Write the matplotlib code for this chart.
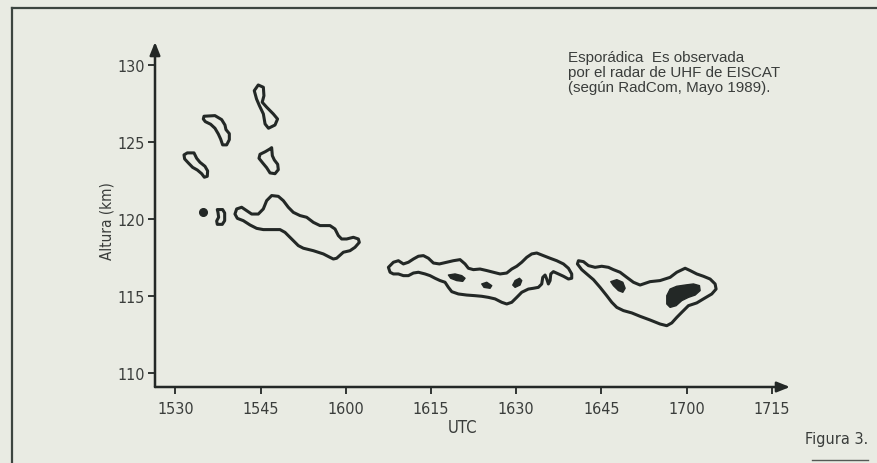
import matplotlib
matplotlib.use("Agg")
import matplotlib.pyplot as plt
from matplotlib.patches import Polygon
from matplotlib import font_manager
from matplotlib.font_manager import FontProperties

# ---------------- data (time in minutes after 15:30 UTC, altitude in km) ----------------
x_ticks = [0, 15, 30, 45, 60, 75, 90, 105]
x_tick_labels = ["1530", "1545", "1600", "1615", "1630", "1645", "1700", "1715"]
y_ticks = [110, 115, 120, 125, 130]

island_top = [(14.6, 128.7), (15.5, 128.55), (15.6, 128.0), (15.3, 127.58), (16.1, 127.25),
              (17.25, 126.82), (18.0, 126.49), (17.55, 126.1), (16.4, 125.89), (15.8, 126.17),
              (15.5, 126.82), (14.8, 127.36), (14.3, 127.79), (13.9, 128.33)]
island_boomerang = [(5.05, 126.67), (6.98, 126.71), (8.16, 126.45), (8.74, 126.1), (8.92, 125.8),
                    (9.51, 125.54), (9.51, 125.15), (9.04, 124.81), (8.33, 124.81), (7.98, 125.19),
                    (7.57, 125.52), (6.98, 125.89), (6.22, 126.15), (5.28, 126.32), (4.93, 126.49)]
island_left = [(2.11, 124.29), (3.29, 124.29), (3.76, 123.94), (4.34, 123.68), (5.22, 123.42),
               (5.69, 123.12), (5.63, 122.77), (5.11, 122.71), (4.64, 122.94), (3.87, 123.18),
               (3.05, 123.35), (2.29, 123.64), (1.64, 123.9), (1.53, 124.16)]
island_mid = [(16.96, 124.63), (17.08, 124.11), (17.43, 123.83), (18.02, 123.55), (18.13, 123.2),
              (17.55, 122.94), (16.67, 122.99), (16.08, 123.33), (15.38, 123.64), (14.73, 123.94),
              (14.91, 124.2), (15.85, 124.37), (16.67, 124.55)]
island_small = [(7.39, 120.61), (8.33, 120.61), (8.69, 120.39), (8.69, 119.89), (8.27, 119.65),
                (7.39, 119.65), (7.28, 119.87), (7.63, 120.11), (7.51, 120.43)]
dot_point = (4.93, 120.43)

layer_1545 = [(10.8, 120.65), (11.68, 120.76), (12.56, 120.54), (13.44, 120.32), (14.61, 120.32),
              (15.49, 120.65), (16.08, 121.19), (16.96, 121.52), (18.13, 121.47), (19.01, 121.19),
              (19.89, 120.76), (20.77, 120.43), (21.95, 120.22), (23.12, 120.11), (24.3, 119.78),
              (25.47, 119.57), (27.23, 119.57), (28.11, 119.35), (28.7, 118.92), (29.28, 118.7),
              (30.16, 118.7), (31.34, 118.81), (32.22, 118.7), (32.39, 118.48), (31.63, 118.16),
              (30.75, 117.94), (29.58, 117.84), (28.4, 117.45), (27.82, 117.4), (27.11, 117.53),
              (26.06, 117.73), (24.3, 117.94), (22.54, 118.1), (21.65, 118.27), (20.48, 118.7),
              (19.31, 119.13), (18.43, 119.31), (16.96, 119.31), (15.49, 119.31), (14.32, 119.39),
              (13.15, 119.61), (11.97, 119.89), (10.92, 120.04), (10.5, 120.32)]

layer_1615 = [(37.51, 116.86), (38.39, 117.19), (39.27, 117.29), (40.15, 117.08), (41.03, 117.19),
              (41.91, 117.4), (42.79, 117.58), (43.67, 117.62), (44.55, 117.45), (45.43, 117.14),
              (46.48, 117.08), (47.78, 117.19), (48.95, 117.29), (50.12, 117.36), (51.0, 117.08),
              (51.59, 116.8), (52.47, 116.71), (53.64, 116.75), (54.82, 116.65), (55.99, 116.54),
              (57.17, 116.43), (58.34, 116.49), (59.22, 116.75), (60.1, 116.93), (60.98, 117.19),
              (61.86, 117.51), (62.74, 117.73), (63.62, 117.79), (64.79, 117.62), (65.97, 117.45),
              (67.14, 117.29), (68.32, 117.08), (69.2, 116.8), (69.78, 116.43), (69.78, 116.15),
              (69.2, 116.1), (68.32, 116.28), (67.44, 116.43), (66.55, 116.58), (66.09, 116.43),
              (65.97, 116.0), (65.67, 115.78), (65.38, 116.1), (65.09, 116.36), (64.68, 116.21),
              (64.5, 115.78), (63.91, 115.56), (63.03, 115.5), (62.15, 115.45), (60.98, 115.24),
              (60.1, 114.91), (59.22, 114.59), (58.34, 114.48), (57.46, 114.59), (56.29, 114.81),
              (55.11, 114.91), (53.94, 114.98), (52.76, 115.02), (51.3, 115.06), (49.83, 115.13),
              (48.66, 115.28), (48.07, 115.56), (47.48, 115.89), (46.6, 116.0), (45.72, 116.15),
              (44.84, 116.32), (43.96, 116.43), (42.79, 116.54), (41.91, 116.49), (41.03, 116.32),
              (40.15, 116.32), (39.27, 116.43), (38.39, 116.43), (37.8, 116.54)]
core_1615_a = [(48.07, 116.36), (49.24, 116.43), (50.42, 116.32), (51.0, 116.15), (50.59, 115.95),
               (49.53, 116.0), (48.48, 116.15)]
core_1615_b = [(53.94, 115.78), (54.82, 115.89), (55.7, 115.67), (55.4, 115.5), (54.34, 115.56)]
core_1615_c = [(59.81, 116.0), (60.58, 116.15), (60.98, 116.0), (60.68, 115.71), (59.81, 115.56),
               (59.4, 115.71)]

layer_1700 = [(70.96, 117.29), (71.84, 117.23), (72.72, 116.97), (73.89, 116.86), (75.06, 116.93),
              (76.24, 116.86), (77.12, 116.71), (78.29, 116.54), (79.47, 116.21), (80.64, 115.89),
              (81.81, 115.71), (83.57, 115.93), (85.33, 116.0), (87.1, 116.21), (88.27, 116.54),
              (89.74, 116.8), (90.62, 116.65), (91.79, 116.43), (92.96, 116.28), (94.14, 116.1),
              (95.02, 115.78), (95.19, 115.45), (94.43, 115.13), (92.96, 114.81), (91.79, 114.55),
              (90.32, 114.37), (89.15, 113.94), (88.27, 113.61), (87.39, 113.25), (86.51, 113.07),
              (85.33, 113.18), (83.57, 113.44), (81.81, 113.68), (80.35, 113.9), (78.88, 114.05),
              (77.71, 114.26), (76.83, 114.59), (75.94, 115.02), (74.77, 115.56), (73.6, 116.06),
              (72.42, 116.43), (71.54, 116.71), (70.78, 117.08)]
core_1700_a = [(76.65, 115.93), (77.71, 116.06), (78.77, 115.89), (79.18, 115.5), (78.77, 115.24),
               (78.0, 115.35), (77.12, 115.67)]
core_1700_b = [(87.1, 115.45), (88.27, 115.63), (89.74, 115.71), (91.2, 115.78), (92.26, 115.67),
               (92.38, 115.35), (91.5, 115.06), (90.32, 114.91), (89.15, 114.7), (88.15, 114.37),
               (87.1, 114.26), (86.51, 114.48), (86.51, 115.02)]

outlines = [island_top, island_boomerang, island_left, island_mid, island_small,
            layer_1545, layer_1615, layer_1700]
cores = [core_1615_a, core_1615_b, core_1615_c, core_1700_a, core_1700_b]

caption_lines = ["Esporádica  Es observada",
                 "por el radar de UHF de EISCAT",
                 "(según RadCom, Mayo 1989)."]

# ---------------- style ----------------
BG = "#e9ebe3"
INK = "#232826"
TXT = "#3a3d3b"

# look for a condensed sans font file; fall back to a regular one at smaller size
narrow_file = None
cands = []
for f in font_manager.fontManager.ttflist:
    name = f.name
    st = str(f.stretch).lower()
    is_cond = ("narrow" in name.lower() or "condensed" in name.lower()
               or st in ("condensed", "semi-condensed", "extra-condensed"))
    if isinstance(f.stretch, (int, float)):
        is_cond = is_cond or f.stretch < 500
    if is_cond and str(f.style) == "normal" and f.weight in (400, "normal", "regular"):
        cands.append(f)
if cands:
    cands.sort(key=lambda f: (0 if "Liberation" in f.name else 1 if "DejaVu" in f.name else 2))
    narrow_file = cands[0].fname

if narrow_file:
    NARROW_FP = lambda size: FontProperties(fname=narrow_file, size=size)
else:
    NARROW_FP = lambda size: FontProperties(family=["Liberation Sans", "DejaVu Sans"],
                                            size=size * 0.9)
REG = ["Liberation Sans", "DejaVu Sans"]

W, H = 877, 464
fig = plt.figure(figsize=(W / 100, H / 100), dpi=100, facecolor=BG)

def fx(px):
    return px / W

def fy(py):
    return 1 - py / H

ax = fig.add_axes([fx(155), fy(388), fx(790) - fx(155), fy(43) - fy(388)])
ax.set_facecolor("none")
ax.set_xlim(-3.574, 108.2)
ax.set_ylim(109.09, 131.49)
for s in ax.spines.values():
    s.set_visible(False)

# axes with arrows
arrow_kw = dict(arrowstyle="-|>,head_length=0.7,head_width=0.28", lw=1.8, color=INK,
                shrinkA=0, shrinkB=0, mutation_scale=11)
ax.annotate("", xy=(1, 0), xytext=(0, 0), xycoords="axes fraction", textcoords="axes fraction",
            arrowprops=arrow_kw, annotation_clip=False)
ax.annotate("", xy=(0, 1), xytext=(0, 0), xycoords="axes fraction", textcoords="axes fraction",
            arrowprops=arrow_kw, annotation_clip=False)

ax.set_xticks(x_ticks)
ax.set_xticklabels(x_tick_labels)
ax.set_yticks(y_ticks)
ax.set_yticklabels([str(v) for v in y_ticks])
ax.tick_params(axis="both", direction="out", length=5, width=1.3, color=INK,
               labelcolor=TXT)
ax.tick_params(axis="x", pad=5)
ax.tick_params(axis="y", pad=2)
for lab in ax.get_xticklabels() + ax.get_yticklabels():
    lab.set_fontproperties(NARROW_FP(11.5))

# contours
for poly in outlines:
    ax.add_patch(Polygon(poly, closed=True, fill=False, edgecolor=INK, lw=2.2,
                         joinstyle="round"))
for poly in cores:
    ax.add_patch(Polygon(poly, closed=True, facecolor=INK, edgecolor=INK, lw=1.0,
                         joinstyle="round"))
ax.plot([dot_point[0]], [dot_point[1]], "o", color=INK, ms=5.5)

# labels
fig.text(fx(107.5), fy(221), "Altura (km)", rotation=90, ha="center", va="center",
         color=TXT, fontproperties=NARROW_FP(11))
fig.text(fx(463), fy(428), "UTC", ha="center", va="center", color=TXT,
         fontproperties=NARROW_FP(12))

baselines = [62.3, 77.0, 92.3]
for line, b in zip(caption_lines, baselines):
    fig.text(fx(568), fy(b), line, ha="left", va="baseline", fontsize=10.9, color=TXT,
             family=REG)

fig.text(fx(868), fy(444.5), "Figura 3.", ha="right", va="baseline", color=TXT,
         fontproperties=NARROW_FP(11.6))
fig.add_artist(plt.Line2D([fx(812), fx(868)], [fy(461), fy(461)], color="#555955", lw=1.0))

# frame of the figure box
fig.add_artist(plt.Line2D([fx(12), fx(877)], [fy(9), fy(9)], color="#3c4540", lw=1.6))
fig.add_artist(plt.Line2D([fx(12), fx(12)], [fy(9), fy(464)], color="#3c4540", lw=1.6))

fig.savefig("out.png", dpi=100, facecolor=BG)
